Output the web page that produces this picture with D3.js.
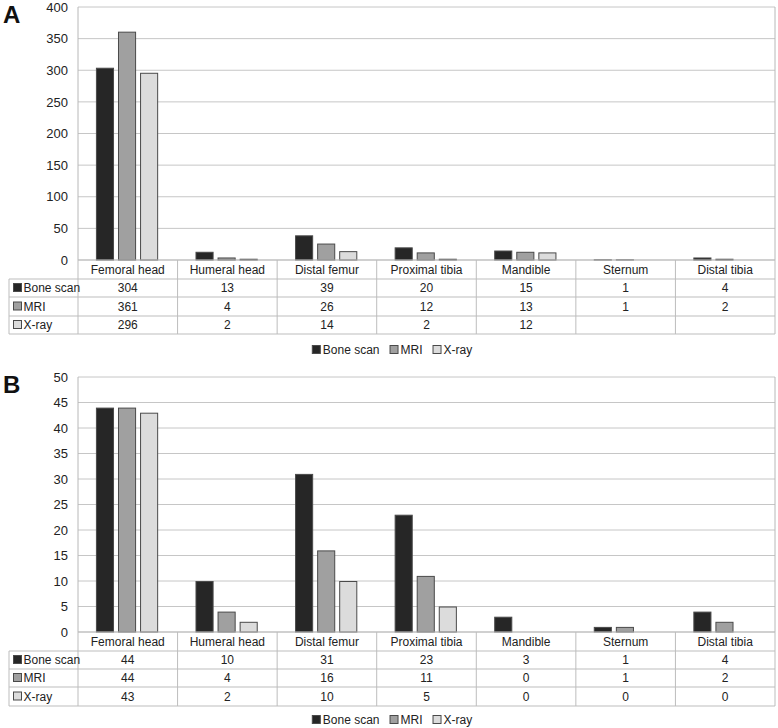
<!DOCTYPE html>
<html>
<head>
<meta charset="utf-8">
<script src="https://cdn.jsdelivr.net/npm/d3@7"></script>
<style>
  body { margin: 0; background: #fff; }
  svg { display: block; font-family: "Liberation Sans", Arial, sans-serif; }
</style>
</head>
<body>
<svg id="chart" width="778" height="728"></svg>
<script>
// categories and series shared by both panels
var categories = ["Femoral head", "Humeral head", "Distal femur", "Proximal tibia", "Mandible", "Sternum", "Distal tibia"];
var seriesNames = ["Bone scan", "MRI", "X-ray"];
var seriesColors = ["#262626", "#a0a0a0", "#dcdcdc"];

// panel A values (null = empty table cell)
var boneScanA = [304, 13, 39, 20, 15, 1, 4];
var mriA = [361, 4, 26, 12, 13, 1, 2];
var xrayA = [296, 2, 14, 2, 12, null, null];
var ticksA = [0, 50, 100, 150, 200, 250, 300, 350, 400];

// panel B values
var boneScanB = [44, 10, 31, 23, 3, 1, 4];
var mriB = [44, 4, 16, 11, 0, 1, 2];
var xrayB = [43, 2, 10, 5, 0, 0, 0];
var ticksB = [0, 5, 10, 15, 20, 25, 30, 35, 40, 45, 50];

var svg = d3.select("#chart");
var plotLeft = 78, plotRight = 775, tableLeft = 9;
var fontSize = "12px";

// draws one panel: bars, y axis, data table and legend
var drawPanel = function(opts) {
    var g = svg.append("g");
    var series = [opts.bone, opts.mri, opts.xray];

    var x = d3.scaleBand().domain(categories).range([plotLeft, plotRight]);
    var bw = x.bandwidth();
    var xSub = d3.scaleBand().domain(seriesNames)
        .range([bw * 0.18, bw * 0.805]).paddingInner(0.18);
    var y = d3.scaleLinear().domain([0, d3.max(opts.ticks)]).range([opts.bottom, opts.top]);

    // panel letter
    g.append("text")
        .attr("x", 3).attr("y", opts.top + 16)
        .style("font-size", "24px").style("font-weight", "bold")
        .attr("fill", "#111")
        .text(opts.label);

    // gridlines
    g.selectAll("line.grid")
        .data(opts.ticks).enter()
        .append("line")
        .attr("x1", plotLeft).attr("x2", plotRight)
        .attr("y1", function(d) { return y(d); })
        .attr("y2", function(d) { return y(d); })
        .attr("stroke", "#c6c6c6").attr("stroke-width", 1);

    // plot borders
    g.append("line")
        .attr("x1", plotLeft).attr("x2", plotLeft)
        .attr("y1", opts.top).attr("y2", opts.bottom)
        .attr("stroke", "#b8b8b8");
    g.append("line")
        .attr("x1", plotRight).attr("x2", plotRight)
        .attr("y1", opts.top).attr("y2", opts.bottom)
        .attr("stroke", "#b8b8b8");

    // y axis labels
    var yAxis = d3.axisLeft(y).tickValues(opts.ticks).tickSize(0).tickPadding(10);
    var ax = g.append("g")
        .attr("transform", "translate(" + plotLeft + ",0)")
        .call(yAxis);
    ax.select(".domain").remove();
    ax.selectAll("text")
        .style("font-size", "13px")
        .style("font-family", "\"Liberation Sans\", Arial, sans-serif")
        .attr("fill", "#222");

    // bars
    seriesNames.forEach(function(name, si) {
        g.selectAll("rect.s" + si)
            .data(series[si].map(function(v, i) { return {cat: categories[i], v: v}; })
                .filter(function(d) { return d.v; }))
            .enter()
            .append("rect")
            .attr("x", function(d) { return x(d.cat) + xSub(name) + 0.5; })
            .attr("y", function(d) { return y(d.v) + 0.5; })
            .attr("width", xSub.bandwidth() - 1)
            .attr("height", function(d) { return Math.max(0, opts.bottom - y(d.v) - 0.5); })
            .attr("fill", seriesColors[si])
            .attr("stroke", "#4a4a4a")
            .attr("stroke-width", 1);
    });

    // data table
    var rows = opts.rows;
    var tableColor = "#bdbdbd";
    // horizontal lines
    g.append("line")
        .attr("x1", plotLeft).attr("x2", plotRight)
        .attr("y1", rows[0]).attr("y2", rows[0])
        .attr("stroke", tableColor);
    for (var r = 1; r < rows.length; r++) {
        g.append("line")
            .attr("x1", tableLeft).attr("x2", plotRight)
            .attr("y1", rows[r]).attr("y2", rows[r])
            .attr("stroke", tableColor);
    }
    // vertical lines
    g.append("line")
        .attr("x1", tableLeft).attr("x2", tableLeft)
        .attr("y1", rows[1]).attr("y2", rows[rows.length - 1])
        .attr("stroke", tableColor);
    var colEdges = categories.map(function(c) { return x(c); }).concat([plotRight]);
    g.selectAll("line.col")
        .data(colEdges).enter()
        .append("line")
        .attr("x1", function(d) { return d; }).attr("x2", function(d) { return d; })
        .attr("y1", rows[0]).attr("y2", rows[rows.length - 1])
        .attr("stroke", tableColor);

    // header labels
    g.selectAll("text.cat")
        .data(categories).enter()
        .append("text")
        .attr("x", function(d) { return x(d) + bw / 2; })
        .attr("y", (rows[0] + rows[1]) / 2)
        .attr("dy", "0.35em")
        .attr("text-anchor", "middle")
        .style("font-size", fontSize)
        .attr("fill", "#222")
        .text(function(d) { return d; });

    // series rows
    seriesNames.forEach(function(name, si) {
        var cy = (rows[si + 1] + rows[si + 2]) / 2;
        g.append("rect")
            .attr("x", 13.5).attr("y", cy - 4.5)
            .attr("width", 8).attr("height", 8)
            .attr("fill", seriesColors[si]).attr("stroke", "#4a4a4a");
        g.append("text")
            .attr("x", 23.5).attr("y", cy).attr("dy", "0.35em")
            .style("font-size", fontSize).attr("fill", "#222")
            .text(name);
        g.selectAll("text.v" + si)
            .data(series[si].map(function(v, i) { return {cat: categories[i], v: v}; }))
            .enter()
            .append("text")
            .attr("x", function(d) { return x(d.cat) + bw / 2; })
            .attr("y", cy).attr("dy", "0.35em")
            .attr("text-anchor", "middle")
            .style("font-size", fontSize).attr("fill", "#222")
            .text(function(d) { return d.v === null ? "" : d.v; });
    });

    // legend centred under the chart
    var legend = g.append("g");
    var lx = 0;
    seriesNames.forEach(function(name, si) {
        legend.append("rect")
            .attr("x", lx + 0.5).attr("y", -4.5)
            .attr("width", 8).attr("height", 8)
            .attr("fill", seriesColors[si]).attr("stroke", "#4a4a4a");
        var t = legend.append("text")
            .attr("x", lx + 11).attr("y", 0).attr("dy", "0.35em")
            .style("font-size", fontSize).attr("fill", "#222")
            .text(name);
        lx += 11 + t.node().getComputedTextLength() + 10;
    });
    var legendWidth = lx - 10;
    legend.attr("transform", "translate(" + ((tableLeft + plotRight) / 2 - legendWidth / 2) + "," + opts.legendY + ")");
};

drawPanel({
    label: "A", bone: boneScanA, mri: mriA, xray: xrayA, ticks: ticksA,
    top: 7, bottom: 260, rows: [260, 279, 297, 316, 334], legendY: 350
});
drawPanel({
    label: "B", bone: boneScanB, mri: mriB, xray: xrayB, ticks: ticksB,
    top: 377, bottom: 632, rows: [632, 651, 669, 687, 706], legendY: 720
});
</script>
</body>
</html>
